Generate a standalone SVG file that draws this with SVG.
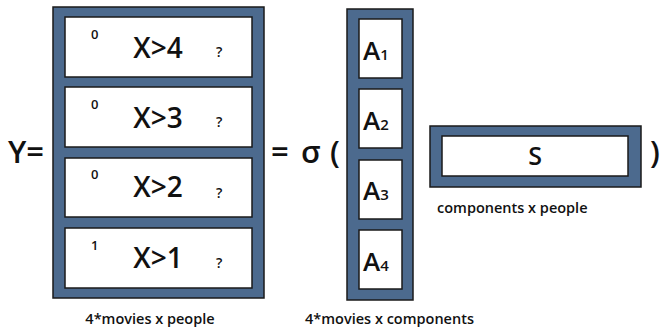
<svg xmlns="http://www.w3.org/2000/svg" width="662" height="329" viewBox="0 0 662 329">
  <style>
    text { font-family: "Open Sans", "Lato", "Liberation Sans", sans-serif; fill: #111; font-weight: 600; }
    .frame { fill: #4c6a8e; stroke: #1a1a1a; stroke-width: 1.5; }
    .cell { fill: #ffffff; stroke: #1a1a1a; stroke-width: 1.5; }
    .big { font-size: 28px; text-anchor: middle; }
    .sup { font-size: 13px; }
    .q { font-size: 14px; }
    .eq { font-size: 31px; }
    .cap { font-size: 14.5px; }
    .a { font-size: 26px; }
    .sub { font-size: 15px; }
  </style>

  <!-- left-hand side -->
  <text class="eq" x="8" y="163">Y=</text>

  <!-- Y matrix: 4*movies x people -->
  <g id="matrix-y">
    <rect class="frame" x="53" y="7" width="211" height="291"/>
    <g id="y-row-4">
      <rect class="cell" x="65" y="17" width="187" height="60"/>
      <text class="sup" x="91" y="39">0</text>
      <text class="big" x="158" y="58">X&gt;4</text>
      <text class="q" x="216" y="57">?</text>
    </g>
    <g id="y-row-3">
      <rect class="cell" x="65" y="87" width="187" height="60"/>
      <text class="sup" x="91" y="109">0</text>
      <text class="big" x="158" y="128">X&gt;3</text>
      <text class="q" x="216" y="127">?</text>
    </g>
    <g id="y-row-2">
      <rect class="cell" x="65" y="158" width="187" height="59"/>
      <text class="sup" x="91" y="179">0</text>
      <text class="big" x="158" y="197">X&gt;2</text>
      <text class="q" x="216" y="198">?</text>
    </g>
    <g id="y-row-1">
      <rect class="cell" x="65" y="228" width="187" height="60"/>
      <text class="sup" x="91" y="250">1</text>
      <text class="big" x="158" y="268">X&gt;1</text>
      <text class="q" x="216" y="268">?</text>
    </g>
    <text class="cap" x="150" y="324" text-anchor="middle">4*movies x people</text>
  </g>

  <text class="eq" x="271" y="163">=</text>
  <text class="eq" x="301" y="163">σ</text>
  <text class="eq" x="330" y="163">(</text>

  <!-- A matrix: 4*movies x components -->
  <g id="matrix-a">
    <rect class="frame" x="347" y="9" width="66" height="291"/>
    <g id="a-1">
      <rect class="cell" x="359" y="19" width="43" height="59"/>
      <text class="a" x="363" y="60">A<tspan class="sub">1</tspan></text>
    </g>
    <g id="a-2">
      <rect class="cell" x="359" y="89" width="43" height="59"/>
      <text class="a" x="363" y="130">A<tspan class="sub">2</tspan></text>
    </g>
    <g id="a-3">
      <rect class="cell" x="359" y="160" width="43" height="59"/>
      <text class="a" x="363" y="200">A<tspan class="sub">3</tspan></text>
    </g>
    <g id="a-4">
      <rect class="cell" x="359" y="230" width="43" height="59"/>
      <text class="a" x="363" y="271">A<tspan class="sub">4</tspan></text>
    </g>
    <text class="cap" x="305" y="324">4*movies x components</text>
  </g>

  <!-- S matrix: components x people -->
  <g id="matrix-s">
    <rect class="frame" x="430" y="126" width="211" height="61"/>
    <rect class="cell" x="442" y="136" width="186" height="40"/>
    <text x="535" y="165" font-size="25" text-anchor="middle">S</text>
    <text class="cap" x="437" y="213">components x people</text>
  </g>

  <text class="eq" x="650" y="163">)</text>
</svg>
